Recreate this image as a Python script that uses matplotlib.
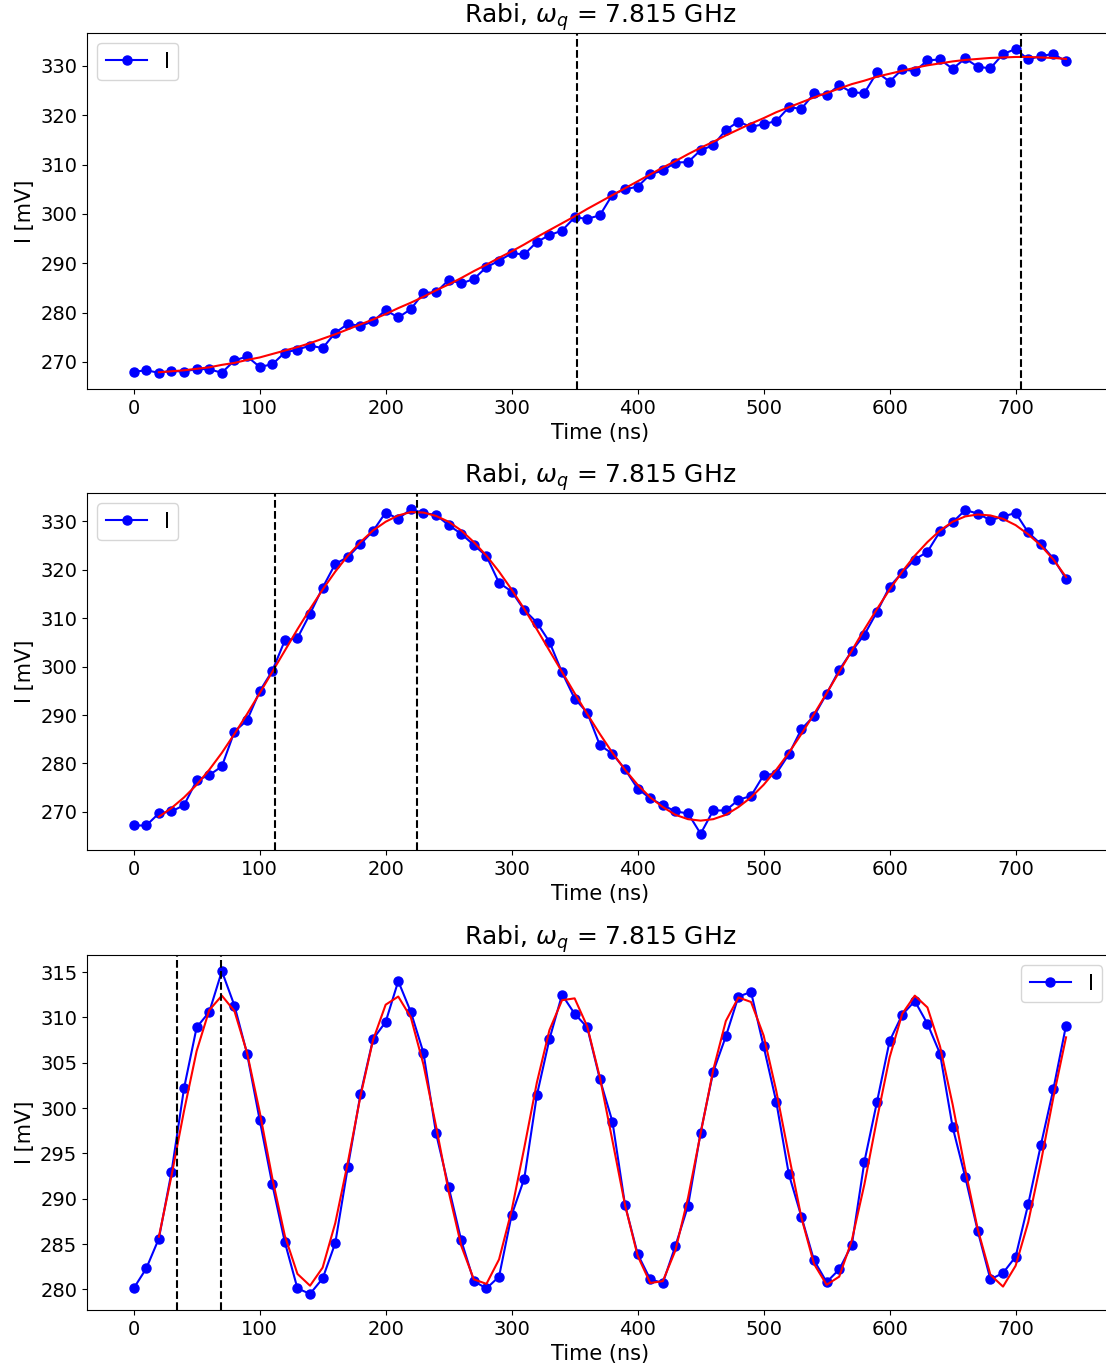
# Rabi oscillation scans at three drive amplitudes, with sine fits
import numpy as np
import matplotlib.pyplot as plt

time_ns = np.arange(0, 750, 10)
fit_time_ns = time_ns[2:]

title = r"Rabi, $\omega_q$ = 7.815 GHz"

# measured I quadrature [mV]
i_low = [268.0, 268.3, 267.8, 268.2, 268.0, 268.6, 268.5, 267.8, 270.3, 271.1,
         269.0, 269.5, 271.9, 272.5, 273.3, 272.8, 275.9, 277.7, 277.3, 278.2,
         280.5, 279.0, 280.7, 284.0, 284.1, 286.6, 285.9, 286.8, 289.2, 290.5,
         292.0, 291.8, 294.3, 295.7, 296.6, 299.3, 299.0, 299.7, 303.9, 305.0,
         305.5, 308.0, 308.8, 310.4, 310.5, 312.9, 313.9, 317.0, 318.7, 317.6,
         318.2, 318.8, 321.6, 321.3, 324.4, 324.0, 326.1, 324.6, 324.5, 328.7,
         326.8, 329.3, 328.9, 331.1, 331.3, 329.4, 331.5, 329.8, 329.5, 332.4,
         333.4, 331.3, 332.0, 332.4, 330.9]
i_mid = [267.2, 267.2, 269.7, 270.1, 271.4, 276.5, 277.6, 279.4, 286.6, 288.9,
         294.9, 299.1, 305.4, 305.9, 310.9, 316.3, 321.2, 322.6, 325.3, 328.0,
         331.8, 330.5, 332.5, 331.7, 331.3, 329.2, 327.4, 325.1, 322.8, 317.3,
         315.5, 311.7, 309.1, 305.1, 298.8, 293.4, 290.5, 283.8, 282.0, 278.8,
         274.8, 272.8, 271.4, 270.1, 269.7, 265.5, 270.3, 270.3, 272.5, 273.3,
         277.6, 277.9, 281.9, 287.1, 289.8, 294.4, 299.3, 303.2, 306.6, 311.3,
         316.5, 319.4, 322.1, 323.7, 327.9, 329.8, 332.3, 331.6, 330.2, 331.0,
         331.7, 327.7, 325.3, 322.3, 318.1]
i_high = [280.1, 282.3, 285.6, 292.9, 302.2, 308.9, 310.6, 315.1, 311.3, 306.0,
          298.7, 291.6, 285.2, 280.1, 279.5, 281.2, 285.1, 293.5, 301.5, 307.6,
          309.5, 314.0, 310.6, 306.1, 297.2, 291.3, 285.4, 280.9, 280.1, 281.4,
          288.2, 292.2, 301.4, 307.6, 312.5, 310.4, 308.9, 303.2, 298.5, 289.3,
          283.9, 281.1, 280.7, 284.8, 289.2, 297.3, 304.0, 307.9, 312.3, 312.8,
          306.8, 300.7, 292.7, 288.0, 283.2, 280.8, 282.2, 284.9, 294.1, 300.7,
          307.4, 310.3, 311.8, 309.3, 306.0, 297.9, 292.4, 286.4, 281.1, 281.8,
          283.6, 289.4, 295.9, 302.1, 309.1]

# fitted curves, sampled at fit_time_ns
fit_low = [267.9, 268.1, 268.3, 268.6, 268.9, 269.4, 269.8, 270.4, 270.9, 271.6,
           272.3, 273.0, 273.8, 274.7, 275.6, 276.6, 277.6, 278.6, 279.7, 280.9,
           282.0, 283.2, 284.5, 285.7, 287.0, 288.4, 289.7, 291.1, 292.4, 293.8,
           295.3, 296.7, 298.1, 299.5, 301.0, 302.4, 303.8, 305.2, 306.6, 308.0,
           309.4, 310.7, 312.1, 313.4, 314.6, 315.9, 317.1, 318.3, 319.4, 320.6,
           321.6, 322.6, 323.6, 324.5, 325.4, 326.3, 327.0, 327.8, 328.4, 329.0,
           329.6, 330.1, 330.5, 330.9, 331.2, 331.4, 331.6, 331.7, 331.8, 331.8,
           331.7, 331.6, 331.4]
fit_mid = [269.0, 270.8, 273.0, 275.6, 278.7, 282.2, 286.1, 290.2, 294.5, 298.9,
           303.3, 307.7, 311.9, 315.9, 319.6, 322.9, 325.7, 328.1, 329.9, 331.2,
           331.9, 331.8, 331.1, 329.9, 328.1, 325.7, 322.9, 319.6, 315.9, 311.9,
           307.7, 303.3, 298.9, 294.5, 290.2, 286.1, 282.2, 278.7, 275.6, 273.0,
           271.0, 269.4, 268.5, 268.2, 268.5, 269.4, 271.0, 273.0, 275.6, 278.7,
           282.2, 286.1, 290.2, 294.5, 298.9, 303.3, 307.7, 311.9, 315.9, 319.6,
           322.9, 325.7, 328.1, 329.9, 331.0, 331.4, 331.2, 330.5, 329.2, 327.3,
           325.0, 322.1, 318.5]
fit_high = [285.8, 292.5, 299.7, 306.3, 310.8, 312.4, 310.7, 306.1, 299.6, 292.3,
            285.9, 281.7, 280.4, 282.4, 287.3, 294.0, 301.3, 307.5, 311.4, 312.3,
            310.0, 304.8, 298.0, 290.8, 284.8, 281.1, 280.6, 283.3, 288.7, 295.6,
            302.8, 308.6, 311.9, 312.1, 309.0, 303.4, 296.4, 289.3, 283.7, 280.7,
            280.9, 284.3, 290.1, 297.2, 304.2, 309.6, 312.2, 311.7, 308.0, 301.9,
            294.8, 287.9, 282.8, 280.5, 281.4, 285.4, 291.6, 298.8, 305.6, 310.4,
            312.4, 311.1, 306.8, 300.4, 293.2, 286.6, 281.6, 280.3, 282.6, 287.4,
            294.0, 301.2, 307.8]

# pi/2 and pi pulse times [ns]
pulse_low = [352, 704]
pulse_mid = [112.5, 225]
pulse_high = [34.5, 69]

panels = [
    (i_low, fit_low, pulse_low, "upper left"),
    (i_mid, fit_mid, pulse_mid, "upper left"),
    (i_high, fit_high, pulse_high, "upper right"),
]

fig = plt.figure(figsize=(11.06, 13.7), dpi=100)
bottoms = [0.7161, 0.3796, 0.0438]
heights = [0.2599, 0.2606, 0.2591]

for (data, fit, pulses, loc), b, h in zip(panels, bottoms, heights):
    ax = fig.add_axes([0.0787, b, 0.9273, h])
    ax.plot(time_ns, data, "o-", color="blue", markersize=6.5, label="I")
    ax.plot(fit_time_ns, fit, "-", color="red", linewidth=1.5)
    for t in pulses:
        ax.axvline(t, color="black", linestyle="--", linewidth=1.5)
    ax.set_title(title, fontsize=18)
    ax.set_xlabel("Time (ns)", fontsize=15)
    ax.set_ylabel("I [mV]", fontsize=15)
    ax.tick_params(labelsize=14)
    ax.legend(loc=loc, fontsize=15)

fig.savefig("out.png", dpi=100)
